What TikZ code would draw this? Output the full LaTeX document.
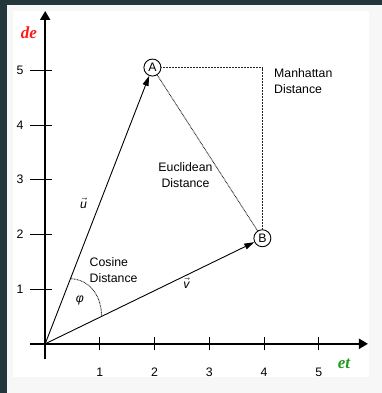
\documentclass[tikz,border=0pt]{standalone}
\usepackage{fontspec}
\setmainfont{Liberation Sans}
\newfontfamily\axisfont{Liberation Serif}
\usetikzlibrary{arrows.meta}
\definecolor{frame}{HTML}{22363C}
\definecolor{pane}{HTML}{F7F7F7}
\definecolor{dered}{HTML}{FF1A1A}
\definecolor{etgreen}{HTML}{1E9B1E}

\begin{document}
\begin{tikzpicture}[x=54.7pt,y=54.7pt,
  font=\fontsize{12.3}{16}\selectfont,
  axis/.style={line width=2pt,-{Triangle[length=9pt,width=10pt]}},
  tickmark/.style={line width=0.9pt},
  vec/.style={line width=0.9pt,-{Triangle[length=10pt,width=6pt]}},
  dist/.style={line width=0.9pt,black!85,dash pattern=on 0.8pt off 0.7pt},
  pt/.style={circle,draw,line width=0.9pt,minimum size=17pt,inner sep=0pt},
  lbl/.style={inner sep=0pt,align=left},
  axlbl/.style={inner sep=0pt,font=\axisfont\fontsize{17}{17}\selectfont\bfseries\itshape},
]
\useasboundingbox (-0.826,-0.899) rectangle (6.157,6.285);
\fill[frame] (-0.826,-0.899) rectangle (6.157,6.285);
\fill[pane] (-0.698,-0.899) rectangle (6.157,6.194);
\fill[white] (-0.589,-0.607) rectangle (5.919,6.084);

\coordinate (O) at (0,0);
\coordinate (xs) at (-0.278,0);
\coordinate (xe) at (5.9,0);
\coordinate (ys) at (0,-0.278);
\coordinate (ye) at (0,6.084);
\draw[axis] (xs) -- (xe);
\draw[axis] (ys) -- (ye);
\foreach \i in {1,...,5} {
  \draw[tickmark] (\i,-0.12) -- (\i,0.12);
  \node (xl\i) at (\i,-0.515) {\i};
  \draw[tickmark] (-0.278,\i) -- (0.124,\i);
  \node (yl\i) at (-0.46,\i) {\i};
}
\node[axlbl,text=dered] (de) at (-0.296,5.682) {de};
\node[axlbl,text=etgreen] (et) at (5.462,-0.368) {et};

\node[pt] (A) at (1.96,5.05) {A};
\node[pt] (B) at (3.97,1.93) {B};
\draw[vec] (O) -- (A);
\draw[vec] (O) -- (B);
\draw[dist] (A) -- (B);
\draw[dist] (A) -| (B);

\coordinate (phiu) at (0.475,1.19);
\coordinate (phiv) at (1.03,0.515);
\draw[dist] (phiu) .. controls (0.78,1.17) and (1.02,0.93) .. (phiv);

\node[lbl] (ulbl) at (0.70,2.57) {$\vec{\textit{u}}$};
\node[lbl] (vlbl) at (2.58,1.11) {$\vec{\textit{v}}$};
\node[lbl] (phi) at (0.636,0.801) {\textit{φ}};
\node[lbl,anchor=west] (manh) at (4.183,4.81) {Manhattan\\Distance};
\node[lbl,align=center] (eucl) at (2.565,3.089) {Euclidean\\Distance};
\node[lbl,anchor=west] (cos) at (0.81,1.355) {Cosine\\Distance};
\end{tikzpicture}
\end{document}
